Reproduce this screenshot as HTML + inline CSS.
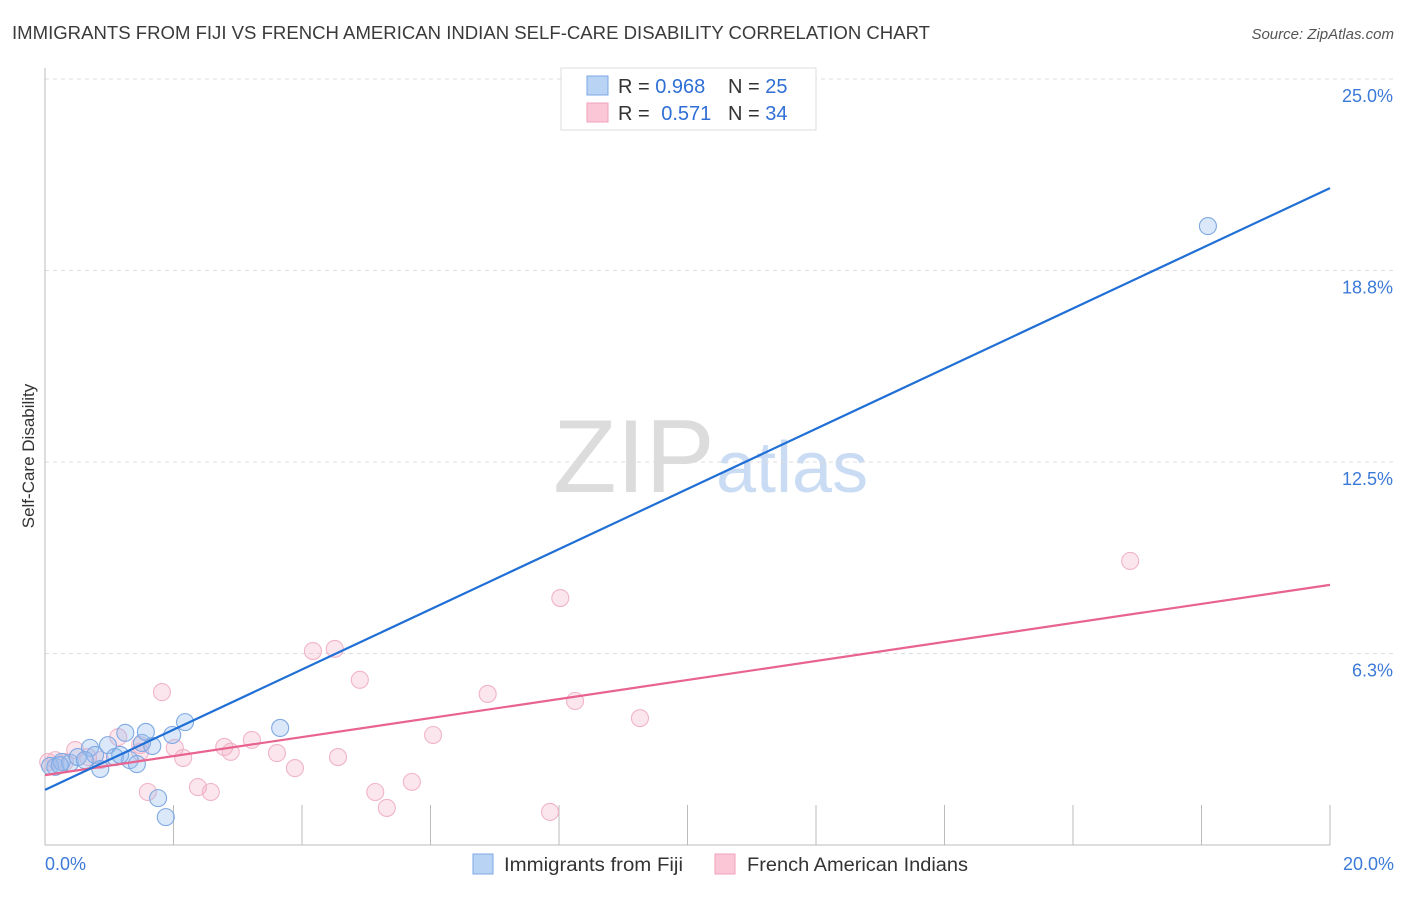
<!DOCTYPE html>
<html><head><meta charset="utf-8"><style>
body{margin:0;background:#fff;font-family:"Liberation Sans",sans-serif;}
svg text{font-family:"Liberation Sans",sans-serif;}
</style></head><body>
<svg id="chart" width="1406" height="892">
<text x="12" y="39" font-size="18" fill="#3a3a3a" textLength="918" lengthAdjust="spacingAndGlyphs">IMMIGRANTS FROM FIJI VS FRENCH AMERICAN INDIAN SELF-CARE DISABILITY CORRELATION CHART</text>
<text x="1394" y="39" font-size="15" fill="#555" font-style="italic" text-anchor="end">Source: ZipAtlas.com</text>
<g>
<text x="553" y="492" font-size="104" fill="#dcdcdc" font-family="Liberation Serif, serif">ZIP</text>
<text x="716" y="492" font-size="72" fill="#c9dcf3">atlas</text>
</g>
<g id="grid"></g>
<g id="marks"></g>
<text transform="translate(34,456) rotate(-90)" font-size="17" fill="#333" text-anchor="middle">Self-Care Disability</text>
<g>
<rect x="561" y="68" width="255" height="62" fill="#fff" stroke="#ddd"/>
<rect x="587" y="76" width="21" height="19" fill="#b9d3f5" stroke="#7aa7e6"/>
<rect x="587" y="103" width="21" height="19" fill="#fbc7d6" stroke="#efa0b8"/>
<text x="618" y="93" font-size="20" fill="#333">R = <tspan fill="#2f6fd6">0.968</tspan></text>
<text x="728" y="93" font-size="20" fill="#333">N = <tspan fill="#2f6fd6">25</tspan></text>
<text x="618" y="120" font-size="20" fill="#333">R = <tspan fill="#2f6fd6" dx="6">0.571</tspan></text>
<text x="728" y="120" font-size="20" fill="#333">N = <tspan fill="#2f6fd6">34</tspan></text>
</g>
<g>
<rect x="473" y="854" width="20" height="20" fill="#b9d3f5" stroke="#7aa7e6"/>
<text x="504" y="871" font-size="19" fill="#333" textLength="179" lengthAdjust="spacingAndGlyphs">Immigrants from Fiji</text>
<rect x="715" y="854" width="20" height="20" fill="#fbc7d6" stroke="#efa0b8"/>
<text x="747" y="871" font-size="19" fill="#333" textLength="221" lengthAdjust="spacingAndGlyphs">French American Indians</text>
</g>
</svg>
<script>
const fijiX=[0.08,0.16,0.26,0.39,0.51,0.70,0.78,0.86,0.98,1.09,1.25,1.32,1.43,1.51,1.57,1.67,1.76,1.88,1.98,2.18,3.66,18.10,0.23,0.62,1.17];
const fijiY=[2.58,2.55,2.71,2.68,2.87,3.17,2.94,2.48,3.26,2.87,3.66,2.77,2.64,3.33,3.69,3.23,1.53,0.91,3.59,4.01,3.82,20.20,2.61,2.77,2.94];
const frX=[0.05,0.16,0.31,0.47,0.67,0.86,1.14,1.48,1.60,1.82,2.02,2.15,2.38,2.58,2.79,2.89,3.22,3.61,3.89,4.17,4.51,4.56,4.90,5.14,5.32,5.71,6.04,6.89,7.86,8.02,8.25,9.26,16.89,1.48];
const frY=[2.71,2.77,2.71,3.10,2.87,2.77,3.52,3.04,1.73,4.99,3.17,2.84,1.89,1.73,3.20,3.04,3.43,3.00,2.51,6.33,6.40,2.87,5.39,1.73,1.21,2.06,3.59,4.93,1.08,8.06,4.70,4.14,9.27,3.26];
const fijiLine=[1.80,21.44];
const frLine=[2.28,8.49];
const yTicks=[6.25,12.5,18.75,25];
const yTickLabels=["6.3%","12.5%","18.8%","25.0%"];
const xTicks=[0,2,4,6,8,10,12,14,16,18,20];
const xMax=20;
const NS="http://www.w3.org/2000/svg";
const sx=v=>45+v/20*1285;
const sy=v=>845-v/25*766;
function mk(tag,attrs,parent){const e=document.createElementNS(NS,tag);for(const k in attrs)e.setAttribute(k,attrs[k]);parent.appendChild(e);return e;}
const grid=document.getElementById('grid'),marks=document.getElementById('marks');
yTicks.forEach((t,i)=>{
 const l=mk('line',{x1:45,x2:1394,y1:sy(t),y2:sy(t),stroke:'#ddd','stroke-dasharray':'4,4'},grid);
 
 
 const tx=mk('text',{x:1393,y:sy(t)+23,'font-size':18,fill:'#3c7ad8','text-anchor':'end'},grid);
 tx.textContent=yTickLabels[i];
 
 
});
mk('line',{x1:45,x2:45,y1:68,y2:845,stroke:'#bbb'},grid);
mk('line',{x1:45,x2:1330,y1:845,y2:845,stroke:'#bbb'},grid);
xTicks.forEach(t=>{
 const l=mk('line',{x1:sx(t),x2:sx(t),y1:805,y2:845,stroke:'#bbb'},grid);
 
 
});
const x0=mk('text',{x:45,y:870,'font-size':18,fill:'#3c7ad8'},grid);x0.textContent="0.0%";


const x1=mk('text',{x:1394,y:870,'font-size':18,fill:'#3c7ad8','text-anchor':'end'},grid);x1.textContent="20.0%";


frX.forEach((x,i)=>{
 const c=mk('circle',{cx:sx(x),cy:sy(frY[i]),r:8.5,fill:'rgba(246,172,197,0.3)',stroke:'#f0b4c7','stroke-width':1.1},marks);
 
 
});
fijiX.forEach((x,i)=>{
 const c=mk('circle',{cx:sx(x),cy:sy(fijiY[i]),r:8.5,fill:'rgba(150,190,238,0.35)',stroke:'#7fa9e3','stroke-width':1.1},marks);
 
 
});
const fl=mk('line',{x1:sx(0),y1:sy(frLine[0]),x2:sx(xMax),y2:sy(frLine[1]),stroke:'#e8638e','stroke-width':2.2},marks);


const bl=mk('line',{x1:sx(0),y1:sy(fijiLine[0]),x2:sx(xMax),y2:sy(fijiLine[1]),stroke:'#1f6fd6','stroke-width':2.2},marks);


</script>
</body></html>
